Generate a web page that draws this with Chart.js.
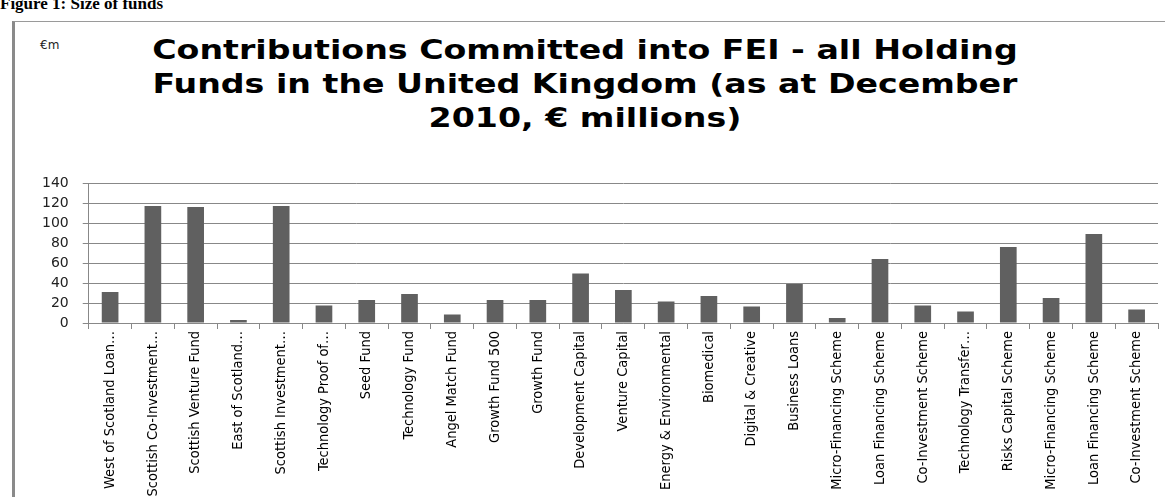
<!DOCTYPE html>
<html>
<head>
<meta charset="utf-8">
<script src="https://cdn.jsdelivr.net/npm/chart.js@4"></script>
<style>
  html, body { margin: 0; padding: 0; background: #fff; }
  body { width: 1165px; height: 497px; position: relative; overflow: hidden; }
  #fig { position: absolute; left: 0; top: -5px; font: bold 17px 'Liberation Serif', serif; line-height: 1; color: #000; white-space: nowrap; }
  #frame { position: absolute; left: 12px; top: 21px; right: -5px; bottom: -5px; border-left: 3px solid #8a8a8a; border-top: 1px solid #9a9a9a; }
  #unit { position: absolute; left: 40px; top: 38px; font: 12px 'DejaVu Sans', sans-serif; color: #222; }
  #title { position: absolute; left: 0; width: 1170px; top: 33px; text-align: center; font: bold 27px 'DejaVu Sans', sans-serif; line-height: 34px; color: #000; transform: scaleX(1.23); transform-origin: 585px 0; }
  #wrap { position: absolute; left: 15px; top: 0; width: 1150px; height: 497px; }
</style>
</head>
<body>
<div id="fig">Figure 1: Size of funds</div>
<div id="frame"></div>
<div id="unit">€m</div>
<div id="title"></div>
<div id="wrap"><canvas id="chart"></canvas></div>
<script>
const titleLines = ['Contributions Committed into FEI - all Holding', 'Funds in the United Kingdom (as at December', '2010, € millions)'];

const funds = [
  'West of Scotland Loan…', 'Scottish Co-Investment…', 'Scottish Venture Fund', 'East of Scotland…',
  'Scottish Investment…', 'Technology Proof of…', 'Seed Fund', 'Technology Fund', 'Angel Match Fund',
  'Growth Fund 500', 'Growth Fund', 'Development Capital', 'Venture Capital', 'Energy & Environmental',
  'Biomedical', 'Digital & Creative', 'Business Loans', 'Micro-Financing Scheme', 'Loan Financing Scheme',
  'Co-Investment Scheme', 'Technology Transfer…', 'Risks Capital Scheme', 'Micro-Financing Scheme',
  'Loan Financing Scheme', 'Co-Investment Scheme'
];

const committed = [31, 117, 116, 3, 117, 17.5, 23, 29, 8.5, 23, 23, 49.5, 33, 21.5, 27, 16.5, 39, 5, 64, 17.5, 11.5, 76, 25, 89, 13.5];

const yTicks = [0, 20, 40, 60, 80, 100, 120, 140];

const titleEl = document.getElementById('title');
titleLines.forEach(line => {
  const d = document.createElement('div');
  d.textContent = line;
  titleEl.appendChild(d);
});

new Chart(document.getElementById('chart'), {
  type: 'bar',
  data: {
    labels: funds,
    datasets: [{
      data: committed,
      backgroundColor: '#606060',
      barPercentage: 0.39,
      categoryPercentage: 1
    }]
  },
  options: {
    responsive: true,
    maintainAspectRatio: false,
    animation: false,
    layout: { padding: { left: 13, right: 7, top: 183, bottom: 0 } },
    plugins: {
      legend: { display: false },
      tooltip: { enabled: false }
    },
    scales: {
      x: {
        // the rotated names need more than half the height, so fix the band
        afterFit: axis => { axis.height = 174; },
        grid: { display: true, offset: true, drawOnChartArea: false, tickLength: 6, color: '#888' },
        border: { color: '#888', width: 1 },
        ticks: {
          autoSkip: false,
          maxRotation: 90,
          minRotation: 90,
          color: '#000',
          padding: 2,
          font: { family: "'Liberation Sans Narrow', 'DejaVu Sans Condensed', sans-serif", size: 14.5 }
        }
      },
      y: {
        min: 0,
        max: 140,
        afterBuildTicks: axis => { axis.ticks = yTicks.map(v => ({ value: v })); },
        grid: { color: '#888', lineWidth: 1, tickLength: 6 },
        border: { color: '#888', width: 1 },
        ticks: {
          color: '#222',
          padding: 14,
          font: { family: 'DejaVu Sans', size: 14 }
        }
      }
    }
  }
});
</script>
</body>
</html>
